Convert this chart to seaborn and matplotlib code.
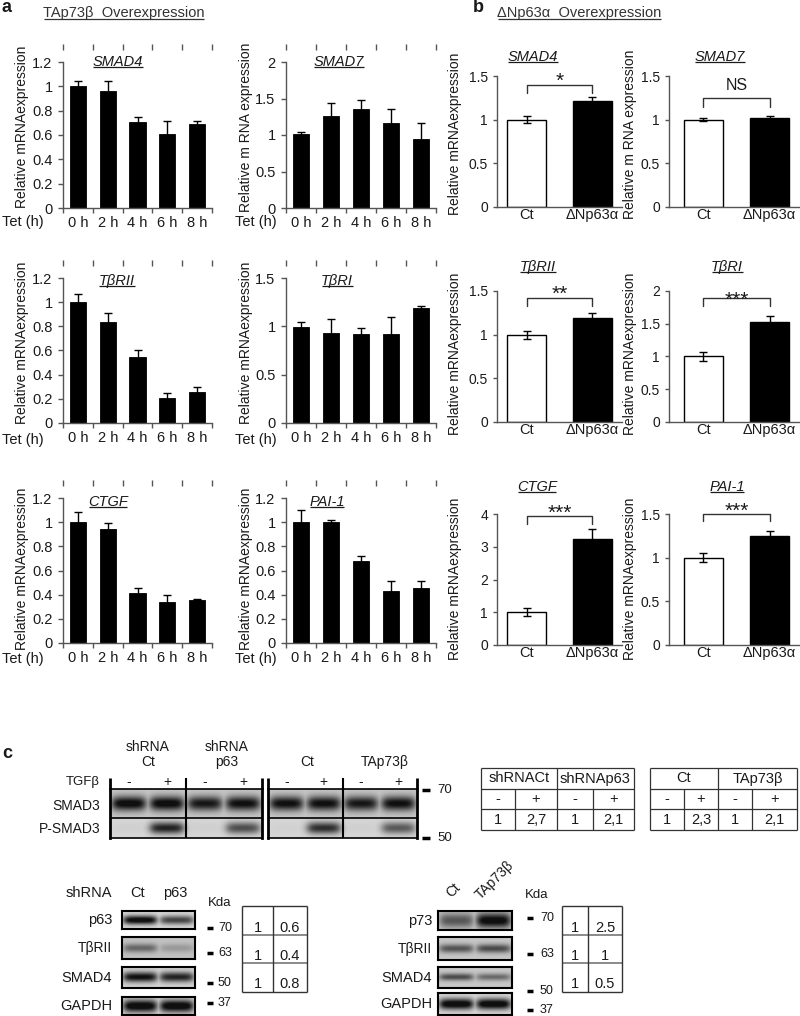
import numpy as np
import pandas as pd
import matplotlib
matplotlib.use("Agg")
import matplotlib.pyplot as plt
import seaborn as sns
from matplotlib.ticker import FuncFormatter, FixedLocator

# ---------------- data ----------------
time_labels = ['0 h', '2 h', '4 h', '6 h', '8 h']
a_genes = ['SMAD4', 'SMAD7', 'TβRII', 'TβRI', 'CTGF', 'PAI-1']
a_smad4 = [1.00, 0.96, 0.705, 0.605, 0.687]
a_smad4_err = [0.045, 0.085, 0.045, 0.11, 0.027]
a_smad7 = [1.01, 1.26, 1.35, 1.17, 0.945]
a_smad7_err = [0.035, 0.18, 0.135, 0.18, 0.22]
a_tbr2 = [1.00, 0.836, 0.543, 0.207, 0.254]
a_tbr2_err = [0.065, 0.075, 0.065, 0.045, 0.047]
a_tbr1 = [0.99, 0.935, 0.92, 0.92, 1.19]
a_tbr1_err = [0.06, 0.145, 0.058, 0.18, 0.02]
a_ctgf = [1.00, 0.94, 0.417, 0.34, 0.36]
a_ctgf_err = [0.085, 0.056, 0.035, 0.06, 0.008]
a_pai1 = [1.00, 1.005, 0.678, 0.427, 0.455]
a_pai1_err = [0.10, 0.015, 0.046, 0.088, 0.057]
a_ylabels = ['Relative mRNAexpression', 'Relative m RNA expression',
             'Relative mRNAexpression', 'Relative mRNAexpression',
             'Relative mRNAexpression', 'Relative mRNAexpression']
a_ymax = [1.2, 2.0, 1.2, 1.5, 1.2, 1.2]
a_ystep = [0.2, 0.5, 0.2, 0.5, 0.2, 0.2]

b_groups = ['Ct', 'ΔNp63α']
b_genes = ['SMAD4', 'SMAD7', 'TβRII', 'TβRI', 'CTGF', 'PAI-1']
b_smad4 = [1.00, 1.215]
b_smad4_err = [0.04, 0.05]
b_smad7 = [1.00, 1.02]
b_smad7_err = [0.015, 0.025]
b_tbr2 = [1.00, 1.19]
b_tbr2_err = [0.045, 0.057]
b_tbr1 = [1.00, 1.525]
b_tbr1_err = [0.07, 0.09]
b_ctgf = [1.00, 3.25]
b_ctgf_err = [0.12, 0.30]
b_pai1 = [1.00, 1.25]
b_pai1_err = [0.055, 0.06]
b_sig = ['*', 'NS', '**', '***', '***', '***']
b_bracket = [1.40, 1.245, 1.42, 1.89, 3.95, 1.50]
b_bracket_drop = [0.09, 0.095, 0.09, 0.12, 0.26, 0.08]
b_sig_y = [1.51, 1.40, 1.53, 1.96, 4.20, 1.60]
b_ylabels = ['Relative mRNAexpression', 'Relative m RNA expression',
             'Relative mRNAexpression', 'Relative mRNAexpression',
             'Relative mRNAexpression', 'Relative mRNAexpression']
b_ymax = [1.5, 1.5, 1.5, 2.0, 4.0, 1.5]
b_ystep = [0.5, 0.5, 0.5, 0.5, 1.0, 0.5]

c_tgf = ['-', '+', '-', '+']
c_left_head = [('shRNA', 'Ct'), ('shRNA', 'p63')]
c_right_head = ['Ct', 'TAp73β']
c_left_smad3 = [0.95, 0.95, 0.85, 0.9]
c_left_psmad3 = [0.03, 0.8, 0.03, 0.6]
c_right_smad3 = [0.9, 0.9, 0.85, 0.9]
c_right_psmad3 = [0.02, 0.75, 0.03, 0.55]
c_top_markers = ['70', '50']
c_tab1_head = ['shRNACt', 'shRNAp63']
c_tab1_vals = ['1', '2,7', '1', '2,1']
c_tab2_head = ['Ct', 'TAp73β']
c_tab2_vals = ['1', '2,3', '1', '2,1']
c_kd_lanes = ['Ct', 'p63']
c_kd_rows = ['p63', 'TβRII', 'SMAD4', 'GAPDH']
c_kd_bands = [[0.95, 0.65], [0.45, 0.2], [0.9, 0.8], [1.0, 1.0]]
c_kd_table = [['1', '0.6'], ['1', '0.4'], ['1', '0.8']]
c_ov_lanes = ['Ct', 'TAp73β']
c_ov_rows = ['p73', 'TβRII', 'SMAD4', 'GAPDH']
c_ov_bands = [[0.55, 0.95], [0.55, 0.6], [0.6, 0.45], [1.0, 1.0]]
c_ov_table = [['1', '2.5'], ['1', '1'], ['1', '0.5']]
c_markers = ['70', '63', '50', '37']

# ---------------- style ----------------
sns.set_theme(style='ticks')
plt.rcParams['font.family'] = ['Liberation Sans', 'DejaVu Sans']
TXT = '#1a1a1a'
AX = '#555555'
W, H = 800, 1016
fig = plt.figure(figsize=(W / 100, H / 100), dpi=100)


def add_px(x0, y0, x1, y1):
    return fig.add_axes([x0 / W, 1 - y1 / H, (x1 - x0) / W, (y1 - y0) / H])


ov = add_px(0, 0, W, H)
ov.set_xlim(0, W)
ov.set_ylim(H, 0)
ov.axis('off')
ov.set_zorder(10)
underlined = []


def T(x, y, s, size=10, ha='center', va='center', **kw):
    kw.setdefault('color', TXT)
    return ov.text(x, y, s, fontsize=size, ha=ha, va=va, **kw)


def L(xs, ys, lw=1.0, color='black'):
    ov.plot(xs, ys, color=color, lw=lw, solid_capstyle='butt', clip_on=False)


fmt = FuncFormatter(lambda v, p: f'{v:g}')

# ---------------- panel a ----------------
a_vals = [a_smad4, a_smad7, a_tbr2, a_tbr1, a_ctgf, a_pai1]
a_errs = [a_smad4_err, a_smad7_err, a_tbr2_err, a_tbr1_err, a_ctgf_err, a_pai1_err]
a_rows = [(62, 208), (278, 423), (498, 643)]
a_cols = [(63, 212), (286, 436)]
a_ylab_x = [22, 246]
a_ylab_y = [127, 343, 569]
a_title_xy = [(118, 62), (339, 62), (117, 281), (337, 281), (108, 502), (327, 502)]
a_tet_x = [2, 235]
a_tet_y = [222, 440, 659]

for k in range(6):
    r, c = divmod(k, 2)
    x0, x1 = a_cols[c]
    y0, y1 = a_rows[r]
    ax = add_px(x0, y0, x1, y1)
    df = pd.DataFrame({'Tet': time_labels, 'expr': a_vals[k]})
    sns.barplot(data=df, x='Tet', y='expr', color='black', saturation=1,
                width=0.55, errorbar=None, edgecolor='black', linewidth=0.6, ax=ax)
    ax.errorbar(np.arange(len(time_labels)), a_vals[k], yerr=a_errs[k], fmt='none',
                ecolor='black', elinewidth=1, capsize=2.6, capthick=1)
    ax.set_xlim(-0.5, len(time_labels) - 0.5)
    ax.set_ylim(0, a_ymax[k])
    ax.yaxis.set_major_locator(FixedLocator(np.round(np.arange(0, a_ymax[k] + 1e-6, a_ystep[k]), 3)))
    ax.yaxis.set_major_formatter(fmt)
    ax.set_xticks(range(len(time_labels)))
    ax.set_xticklabels(time_labels)
    ax.set_xticks(np.arange(-0.5, len(time_labels), 1), minor=True)
    ax.tick_params(axis='x', which='major', length=0, pad=5.5, labelsize=10.5, labelcolor=TXT)
    ax.tick_params(axis='x', which='minor', length=3.5, width=1, direction='out', color=AX)
    ax.tick_params(axis='y', length=3.5, width=1, direction='out', pad=4, labelsize=10.5,
                   color=AX, labelcolor=TXT)
    ax.set_xlabel('')
    ax.set_ylabel(a_ylabels[k], fontsize=10, color=TXT)
    ax.yaxis.label.set_verticalalignment('center')
    ax.yaxis.set_label_coords((a_ylab_x[c] - x0) / (x1 - x0), (y1 - a_ylab_y[r]) / (y1 - y0))
    sns.despine(ax=ax)
    for s in ('left', 'bottom'):
        ax.spines[s].set_color(AX)
        ax.spines[s].set_linewidth(1)
    sec = ax.secondary_xaxis(1 + 15 / (y1 - y0))
    sec.set_xticks(np.arange(-0.5, len(time_labels), 1))
    sec.tick_params(axis='x', length=4.5, width=1, direction='inout', labeltop=False,
                    labelbottom=False, color=AX)
    for s in sec.spines.values():
        s.set_visible(False)
    t = T(*a_title_xy[k], a_genes[k], size=10.5, style='italic')
    underlined.append(t)
    T(a_tet_x[c], a_tet_y[r], 'Tet (h)', size=10.5, ha='left')

# ---------------- panel b ----------------
b_vals = [b_smad4, b_smad7, b_tbr2, b_tbr1, b_ctgf, b_pai1]
b_errs = [b_smad4_err, b_smad7_err, b_tbr2_err, b_tbr1_err, b_ctgf_err, b_pai1_err]
b_rows = [(76, 207), (291, 422), (514, 645)]
b_cols = [(497, 622), (669, 800)]
b_xlims = [(-0.45, 1.45), (-0.52, 1.46)]
b_ylab_x = [455, 630]
b_ylab_y = [134, 354, 579]
b_title_xy = [(533, 57), (720, 57), (538, 267), (727, 267), (537, 487), (727, 487)]

for k in range(6):
    r, c = divmod(k, 2)
    x0, x1 = b_cols[c]
    y0, y1 = b_rows[r]
    ax = add_px(x0, y0, x1, y1)
    df = pd.DataFrame({'grp': b_groups, 'expr': b_vals[k]})
    sns.barplot(data=df, x='grp', y='expr', hue='grp', palette=['white', 'black'],
                saturation=1, width=0.6, errorbar=None, edgecolor='black', linewidth=1,
                legend=False, ax=ax)
    ax.errorbar(np.arange(len(b_groups)), b_vals[k], yerr=b_errs[k], fmt='none',
                ecolor='black', elinewidth=1, capsize=3, capthick=1)
    ax.set_xlim(*b_xlims[c])
    ax.set_ylim(0, b_ymax[k])
    ax.yaxis.set_major_locator(FixedLocator(np.round(np.arange(0, b_ymax[k] + 1e-6, b_ystep[k]), 3)))
    ax.yaxis.set_major_formatter(fmt)
    ax.set_xticks(range(len(b_groups)))
    ax.set_xticklabels(b_groups)
    ax.tick_params(axis='x', length=0, pad=1, labelsize=10.5, labelcolor=TXT)
    ax.tick_params(axis='y', length=3, width=1, direction='out', pad=3.5, labelsize=10,
                   color=AX, labelcolor=TXT)
    ax.set_xlabel('')
    ax.set_ylabel(b_ylabels[k], fontsize=10, color=TXT)
    ax.yaxis.label.set_verticalalignment('center')
    ax.yaxis.set_label_coords((b_ylab_x[c] - x0) / (x1 - x0), (y1 - b_ylab_y[r]) / (y1 - y0))
    sns.despine(ax=ax)
    for s in ('left', 'bottom'):
        ax.spines[s].set_color(AX)
        ax.spines[s].set_linewidth(1)
    yb, d = b_bracket[k], b_bracket_drop[k]
    ax.plot([0, 0, 1, 1], [yb - d, yb, yb, yb - d], color='#333333', lw=1, clip_on=False)
    if b_sig[k] == 'NS':
        ax.annotate('NS', xy=(0.5, b_sig_y[k]), xytext=(0, -4), textcoords='offset points',
                    ha='center', va='baseline', fontsize=11.5, color=TXT, annotation_clip=False)
    else:
        ax.annotate(b_sig[k], xy=(0.5, b_sig_y[k]), xytext=(0, -8.5), textcoords='offset points',
                    ha='center', va='baseline', fontsize=15, color=TXT, annotation_clip=False)
    t = T(*b_title_xy[k], b_genes[k], size=10.5, style='italic')
    underlined.append(t)

# panel headings
T(7, 8, 'a', size=13, weight='bold')
underlined.append(T(43, 13.5, 'TAp73β  Overexpression', size=10.5, ha='left', color='#333333'))
T(478, 8, 'b', size=13, weight='bold')
underlined.append(T(497, 13.5, 'ΔNp63α  Overexpression', size=10.5, ha='left', color='#333333'))
T(7, 753.5, 'c', size=13, weight='bold')


# ---------------- panel c ----------------
def blot_img(bands, w, h, thick, bg, spread=0.78, soft=1.8):
    n = len(bands)
    xs = np.arange(w) + 0.5
    ys = np.arange(h) + 0.5
    lane = w / n
    py = np.exp(-((ys - h / 2) / (thick * h / 2)) ** 2)
    dark = np.zeros((h, w))
    for i, v in enumerate(bands):
        cx = (i + 0.5) * lane
        px = 1 / (1 + np.exp((np.abs(xs - cx) - spread * lane / 2) / soft))
        dark = np.maximum(dark, v * np.outer(py, px))
    return bg - (bg - 0.06) * np.clip(dark * 1.15, 0, 1)


def show_blot(ax, img, lw_lr=1.5, lw_tb=1.5):
    ax.imshow(img, cmap='gray', vmin=0, vmax=1, aspect='auto', interpolation='bilinear',
              extent=(0, img.shape[1], img.shape[0], 0))
    ax.set_xticks([])
    ax.set_yticks([])
    for s in ('left', 'right'):
        ax.spines[s].set_linewidth(lw_lr)
        ax.spines[s].set_color('black')
    for s in ('top', 'bottom'):
        ax.spines[s].set_linewidth(lw_tb)
        ax.spines[s].set_color('black')


top_y0, top_mid, top_y1 = 789, 818, 838
top_blots = [((110, 262), c_left_smad3, c_left_psmad3), ((268, 417), c_right_smad3, c_right_psmad3)]
for (bx0, bx1), s3, ps3 in top_blots:
    w = bx1 - bx0
    img = np.vstack([blot_img(s3, w, top_mid - top_y0, 0.5, 0.78, spread=0.85, soft=2.5),
                     blot_img(ps3, w, top_y1 - top_mid, 0.6, 0.84, spread=0.85, soft=2.5)])
    bax = add_px(bx0, top_y0, bx1, top_y1)
    show_blot(bax, img, lw_lr=2, lw_tb=1.2)
    L([bx0, bx1], [top_mid, top_mid], lw=1.2)
    L([bx0, bx0], [778, top_y0], lw=2)
    L([bx1, bx1], [778, top_y0], lw=2)
    xm = (bx0 + bx1) / 2
    L([xm, xm], [778, top_y1], lw=1.5)
    for i, sgn in enumerate(c_tgf):
        T(bx0 + (i + 0.5) * w / len(c_tgf), 782, sgn, size=10)

for (l1, l2), xc in zip(c_left_head, [148, 227]):
    T(xc, 747, l1, size=10)
    T(xc, 762, l2, size=10)
for lab, xc in zip(c_right_head, [307, 385]):
    T(xc, 762, lab, size=10)
T(100, 782, 'TGFβ', size=9.5, ha='right')
T(100, 806, 'SMAD3', size=10, ha='right')
T(100, 829, 'P-SMAD3', size=10, ha='right')
for mk, my in zip(c_top_markers, [790, 838]):
    L([422, 430], [my, my], lw=2.5)
    T(437, my, mk, size=9.5, ha='left')


def draw_table(xs, ys, heads, vals):
    for y in ys:
        L([xs[0], xs[-1]], [y, y], lw=0.9, color='#333333')
    for i, x in enumerate(xs):
        top = ys[0] if i in (0, 2, 4) else ys[1]
        L([x, x], [top, ys[-1]], lw=0.9, color='#333333')
    for j, hd in enumerate(heads):
        T((xs[2 * j] + xs[2 * j + 2]) / 2, (ys[0] + ys[1]) / 2, hd, size=10.5)
    for i in range(4):
        xc = (xs[i] + xs[i + 1]) / 2
        T(xc, (ys[1] + ys[2]) / 2, c_tgf[i], size=10.5)
        T(xc, (ys[2] + ys[3]) / 2, vals[i], size=10.5)


draw_table([481, 515, 557, 593, 634], [768, 789, 809, 830], c_tab1_head, c_tab1_vals)
draw_table([650, 684, 718, 752, 797], [768, 789, 809, 830], c_tab2_head, c_tab2_vals)

# lower blots
kd_cfg = dict(x=(122, 195), rows=[(911, 929), (937, 959), (967, 988), (997, 1015)],
              thick=[0.5, 0.4, 0.45, 0.7], bg=[0.86, 0.76, 0.83, 0.85],
              lab_x=112, kda=(220, 903), dash_x=(207, 213), mk_x=218,
              mk_y=[928, 953, 983, 1003], tab_x=[242, 273, 307])
ov_cfg = dict(x=(438, 512), rows=[(911, 930), (937, 960), (967, 988), (993, 1015)],
              thick=[0.8, 0.38, 0.32, 0.5], bg=[0.80, 0.78, 0.78, 0.85],
              lab_x=432, kda=(537, 895), dash_x=(527, 533), mk_x=540,
              mk_y=[918, 954, 991, 1010], tab_x=[562, 588, 622])
tab_y = [906, 935, 963, 992]

for cfg, rows, bands, table in [(kd_cfg, c_kd_rows, c_kd_bands, c_kd_table),
                                (ov_cfg, c_ov_rows, c_ov_bands, c_ov_table)]:
    bx0, bx1 = cfg['x']
    for i, (name, bd) in enumerate(zip(rows, bands)):
        ry0, ry1 = cfg['rows'][i]
        bax = add_px(bx0, ry0, bx1, ry1)
        show_blot(bax, blot_img(bd, bx1 - bx0, ry1 - ry0, cfg['thick'][i], cfg['bg'][i],
                                spread=0.88, soft=2.2), lw_lr=1.5, lw_tb=1.5)
        T(cfg['lab_x'], (ry0 + ry1) / 2, name, size=10 if 'β' in name else 10.5, ha='right')
    T(*cfg['kda'], 'Kda', size=9.5)
    for mk, my in zip(c_markers, cfg['mk_y']):
        L(list(cfg['dash_x']), [my, my], lw=2.5)
        T(cfg['mk_x'], my, mk, size=9, ha='left')
    tx = cfg['tab_x']
    L([tx[0], tx[-1]], [tab_y[0], tab_y[0]], lw=1, color='#333333')
    L([tx[0], tx[-1]], [tab_y[-1], tab_y[-1]], lw=1, color='#333333')
    for yy in tab_y[1:-1]:
        L([tx[0], tx[-1]], [yy, yy], lw=1.4, color='#8a8a8a')
    for xx in tx:
        L([xx, xx], [tab_y[0], tab_y[-1]], lw=1, color='#333333')
    for i, rowv in enumerate(table):
        for j, v in enumerate(rowv):
            T((tx[j] + tx[j + 1]) / 2, tab_y[i + 1] - 7.5, v, size=10.5)

T(112, 893, 'shRNA', size=10.5, ha='right')
for lab, xc in zip(c_kd_lanes, [138, 175]):
    T(xc, 893, lab, size=10.5)
for lab, (xc, yc) in zip(c_ov_lanes, [(453, 890), (495, 880)]):
    T(xc, yc, lab, size=10, rotation=45)

# ---------------- underlines ----------------
fig.canvas.draw()
rend = fig.canvas.get_renderer()
inv = ov.transData.inverted()
for t in underlined:
    bb = t.get_window_extent(rend)
    (ux0, uy0), (ux1, uy1) = inv.transform([[bb.x0, bb.y0], [bb.x1, bb.y1]])
    em = t.get_fontsize() * 100 / 72
    yline = uy0 - 0.11 * em
    ov.plot([ux0 + 0.5, ux1 - 0.5], [yline, yline], color=t.get_color(), lw=0.9,
            solid_capstyle='butt', clip_on=False)

fig.savefig('out.png', dpi=100)
